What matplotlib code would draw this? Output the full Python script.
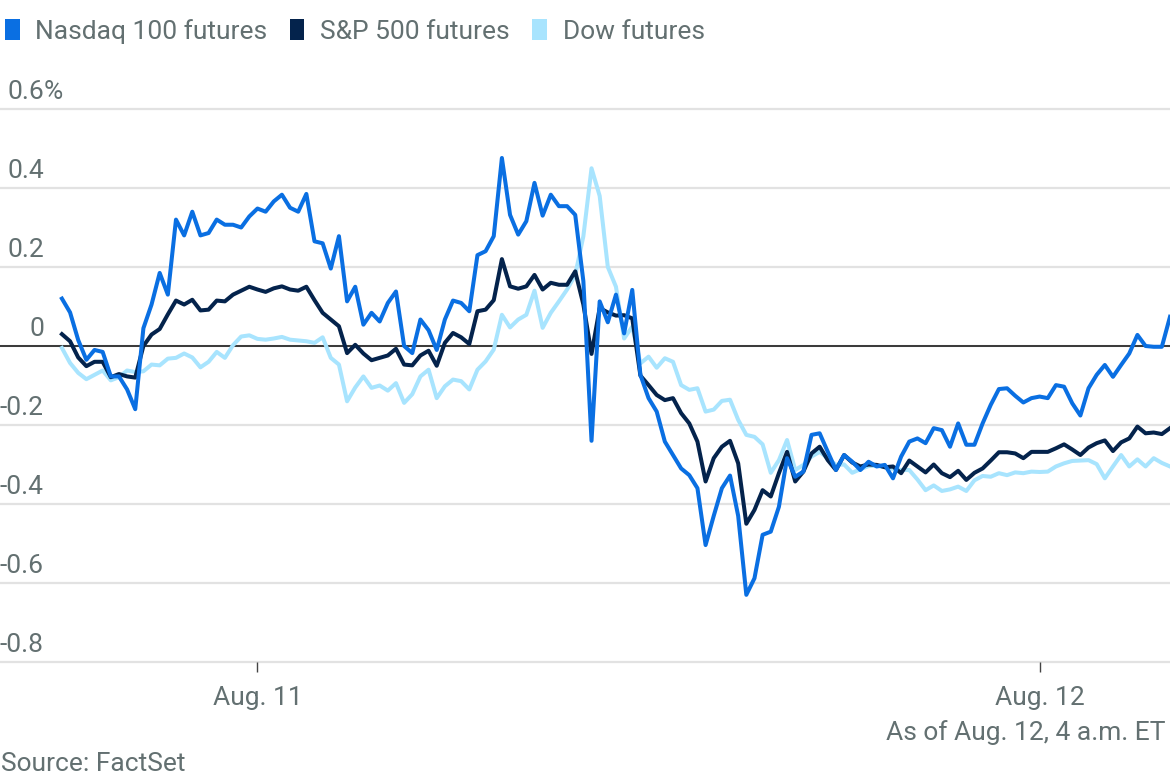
import matplotlib
matplotlib.use("Agg")
import matplotlib.pyplot as plt
from matplotlib.patches import Patch
import pandas as pd

plt.rcParams["font.family"] = ["Roboto", "DejaVu Sans"]

# ─── Data: % change, 15-minute steps from 6 p.m. Aug. 10 to 4 a.m. Aug. 12 ───
times = pd.date_range("2025-08-10 18:00", "2025-08-12 04:00", freq="15min")

nasdaq = [
    0.12, 0.085, 0.015, -0.035, -0.01, -0.015, -0.077, -0.077, -0.11, -0.16,
    0.045, 0.105, 0.185, 0.13, 0.32, 0.28, 0.34, 0.28, 0.286, 0.32,
    0.307, 0.307, 0.30, 0.328, 0.348, 0.34, 0.366, 0.383, 0.35, 0.34,
    0.385, 0.265, 0.26, 0.196, 0.278, 0.113, 0.15, 0.054, 0.084, 0.062,
    0.109, 0.138, 0.0, -0.018, 0.067, 0.04, -0.01, 0.067, 0.115, 0.109,
    0.088, 0.23, 0.24, 0.278, 0.476, 0.332, 0.282, 0.316, 0.413, 0.33,
    0.383, 0.354, 0.354, 0.332, 0.164, -0.24, 0.113, 0.06, 0.13, 0.032,
    0.142, -0.073, -0.132, -0.166, -0.242, -0.276, -0.31, -0.327, -0.36, -0.504,
    -0.43, -0.36, -0.328, -0.43, -0.63, -0.588, -0.478, -0.47, -0.407, -0.284,
    -0.331, -0.318, -0.225, -0.221, -0.268, -0.314, -0.276, -0.293, -0.314, -0.293,
    -0.305, -0.301, -0.335, -0.28, -0.242, -0.234, -0.246, -0.208, -0.213, -0.255,
    -0.196, -0.25, -0.25, -0.196, -0.149, -0.109, -0.107, -0.126, -0.143, -0.132,
    -0.128, -0.132, -0.099, -0.103, -0.145, -0.176, -0.107, -0.073, -0.048, -0.078,
    -0.048, -0.019, 0.028, 0.0, -0.002, -0.002, 0.074,
]

sp500 = [
    0.03, 0.012, -0.029, -0.051, -0.04, -0.04, -0.079, -0.071, -0.077, -0.08,
    0.0, 0.029, 0.043, 0.08, 0.115, 0.105, 0.117, 0.09, 0.092, 0.115,
    0.113, 0.13, 0.14, 0.15, 0.143, 0.137, 0.146, 0.151, 0.143, 0.14,
    0.15, 0.116, 0.084, 0.067, 0.05, -0.018, 0.003, -0.019, -0.036, -0.03,
    -0.024, -0.007, -0.047, -0.049, -0.024, -0.012, -0.05, 0.008, 0.033, 0.022,
    0.005, 0.088, 0.092, 0.116, 0.22, 0.151, 0.145, 0.151, 0.18, 0.143,
    0.16, 0.155, 0.155, 0.189, 0.105, -0.02, 0.096, 0.085, 0.077, 0.078,
    0.07, -0.075, -0.099, -0.124, -0.137, -0.132, -0.17, -0.196, -0.242, -0.343,
    -0.284, -0.255, -0.24, -0.297, -0.45, -0.415, -0.365, -0.381, -0.322, -0.268,
    -0.343, -0.318, -0.272, -0.255, -0.289, -0.314, -0.276, -0.295, -0.305, -0.3,
    -0.301, -0.307, -0.305, -0.322, -0.29, -0.305, -0.32, -0.3, -0.322, -0.332,
    -0.316, -0.339, -0.321, -0.31, -0.29, -0.269, -0.269, -0.272, -0.284, -0.268,
    -0.268, -0.268, -0.259, -0.249, -0.262, -0.276, -0.257, -0.246, -0.239, -0.266,
    -0.244, -0.234, -0.204, -0.221, -0.219, -0.223, -0.208,
]

dow = [
    -0.005, -0.043, -0.068, -0.084, -0.073, -0.062, -0.087, -0.079, -0.062, -0.066,
    -0.064, -0.047, -0.049, -0.032, -0.03, -0.019, -0.029, -0.054, -0.04, -0.015,
    -0.03, 0.002, 0.024, 0.027, 0.018, 0.016, 0.019, 0.023, 0.016, 0.014,
    0.012, 0.008, 0.022, -0.03, -0.047, -0.14, -0.105, -0.077, -0.106, -0.1,
    -0.113, -0.094, -0.144, -0.122, -0.077, -0.06, -0.132, -0.102, -0.085, -0.089,
    -0.11, -0.06, -0.039, -0.009, 0.079, 0.047, 0.067, 0.079, 0.14, 0.046,
    0.084, 0.113, 0.143, 0.18, 0.278, 0.45, 0.38, 0.2, 0.15, 0.019,
    0.049, -0.044, -0.027, -0.055, -0.031, -0.04, -0.099, -0.111, -0.107, -0.166,
    -0.161, -0.139, -0.136, -0.187, -0.225, -0.23, -0.249, -0.321, -0.289, -0.238,
    -0.314, -0.301, -0.28, -0.268, -0.284, -0.301, -0.3, -0.321, -0.312, -0.304,
    -0.303, -0.307, -0.311, -0.314, -0.314, -0.338, -0.365, -0.353, -0.367, -0.363,
    -0.356, -0.367, -0.34, -0.329, -0.331, -0.322, -0.327, -0.32, -0.322, -0.318,
    -0.319, -0.318, -0.305, -0.297, -0.291, -0.29, -0.289, -0.299, -0.335, -0.305,
    -0.276, -0.305, -0.287, -0.305, -0.284, -0.296, -0.305,
]

series_names = ["Nasdaq 100 futures", "S&P 500 futures", "Dow futures"]
series_colors = ["#0a6fe2", "#04234c", "#a8e4fe"]

y_ticks = [0.6, 0.4, 0.2, 0.0, -0.2, -0.4, -0.6, -0.8]
y_labels = ["0.6", "0.4", "0.2", "0", "-0.2", "-0.4", "-0.6", "-0.8"]

x_ticks = [pd.Timestamp("2025-08-11"), pd.Timestamp("2025-08-12")]
x_labels = ["Aug. 11", "Aug. 12"]

TEXT = "#637071"
FS = 19

# ─── Figure ────────────────────────────────────────────────────────
W, H = 1170, 777
fig = plt.figure(figsize=(W / 100, H / 100), dpi=100)
ax = fig.add_axes([0, 1 - 662 / H, 1, (662 - 109) / H])
ax.set_ylim(-0.8, 0.6)
ax.set_xlim(times[0] - pd.Timedelta(minutes=114), times[-1])

for v in y_ticks:
    ax.axhline(v, color="#e2e2e2", lw=1.6, zorder=1, clip_on=False)
ax.axhline(0, color="#1b1b1b", lw=1.2, zorder=2)

# Dow at the back, Nasdaq on top
ax.plot(times, dow, color=series_colors[2], lw=2.9, zorder=3, solid_joinstyle="round")
ax.plot(times, sp500, color=series_colors[1], lw=2.9, zorder=4, solid_joinstyle="round")
ax.plot(times, nasdaq, color=series_colors[0], lw=2.9, zorder=5, solid_joinstyle="round")

for s in ax.spines.values():
    s.set_visible(False)

ax.set_yticks([])
ax.set_xticks(x_ticks)
ax.set_xticklabels(x_labels)
ax.tick_params(axis="x", length=7.5, width=1, color="#444444", pad=10,
               labelsize=FS, labelcolor=TEXT)

# y labels sit above their gridlines, right aligned
for v, lab in zip(y_ticks, y_labels):
    ax.annotate(lab, xy=(44 / W, v), xycoords=("axes fraction", "data"),
                xytext=(0, 12.5), textcoords="offset points",
                ha="right", va="center", fontsize=FS, color=TEXT)
ax.annotate("%", xy=(44 / W, 0.6), xycoords=("axes fraction", "data"),
            xytext=(0, 12.5), textcoords="offset points",
            ha="left", va="center", fontsize=FS, color=TEXT)

# legend
handles = [Patch(facecolor=c, edgecolor="none", label=n)
           for n, c in zip(series_names, series_colors)]
fig.legend(handles=handles, loc="upper left", bbox_to_anchor=(5 / W, 1 - 19 / H),
           ncol=3, frameon=False, fontsize=FS, labelcolor=TEXT,
           handlelength=0.55, handleheight=0.85, handletextpad=0.6,
           columnspacing=0.85, borderaxespad=0, borderpad=0)

fig.text(1166 / W, 1 - 733 / H, "As of Aug. 12, 4 a.m. ET",
         ha="right", va="center", fontsize=FS, color=TEXT)
fig.text(1 / W, 1 - 764 / H, "Source: FactSet",
         ha="left", va="center", fontsize=FS, color=TEXT)

fig.savefig("out.png", dpi=100)
